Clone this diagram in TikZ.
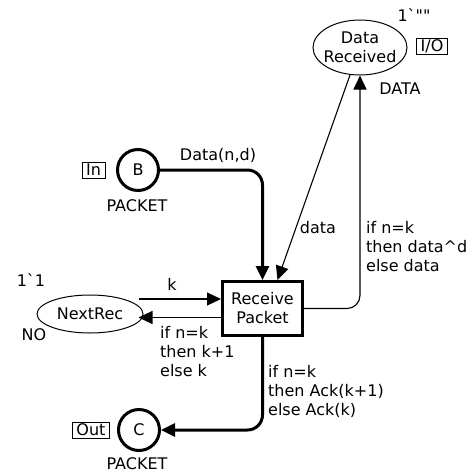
\documentclass[tikz,border=0pt]{standalone}
\usepackage{fontspec}
\setmainfont{DejaVu Sans}
\newfontfamily\rawfont{DejaVu Sans}
\usetikzlibrary{arrows.meta,shapes.geometric,calc}
\begin{document}
\begin{tikzpicture}[x=1pt,y=-1pt,
  font=\fontsize{16}{19}\selectfont,
  every node/.style={inner sep=0pt},
  placeell/.style={draw, ellipse, line width=1pt, inner sep=0pt},
  placecirc/.style={draw, circle, line width=3pt, minimum size=41pt},
  trans/.style={draw, rectangle, line width=3pt, minimum width=80pt, minimum height=54pt, align=center},
  thinarc/.style={line width=1.1pt, -{Triangle[length=14pt,width=13pt]}, rounded corners=13pt},
  thickarc/.style={line width=3pt, -{Triangle[length=14pt,width=13pt]}, rounded corners=15pt},
  tag/.style={draw, line width=0.8pt, inner xsep=4pt, inner ysep=1.5pt, text height=12pt, text depth=1pt},
  lbl/.style={align=left, anchor=west}
]
\useasboundingbox (0,0) rectangle (473,475);

% places
\node[placeell, minimum width=94pt, minimum height=55pt] (DR) at (360,47.5) {};
\node[align=center] (DRtext) at (DR) {Data\\Received};
\node[placeell, minimum width=106pt, minimum height=38pt] (NR) at (90,314) {};
\node (NRtext) at (NR) {NextRec};
\node[placecirc] (B) at (138,170) {B};
\node[placecirc] (C) at (139,430) {C};

% transition
\node[trans] (T) at (262.5,308.5) {Receive\\Packet};

% place inscriptions
\node (DRinit) at (414,15) {\rawfont 1`""};
\node[tag] (io) at (432,46) {I/O};
\node (DRtype) at (400,89) {DATA};
\node[tag] (in) at (93.5,170) {In};
\node (Btype) at (137,206) {PACKET};
\node[tag] (out) at (91,430) {Out};
\node (Ctype) at (137,464) {PACKET};
\node (NRinit) at (31,280) {\rawfont 1`1};
\node (NRtype) at (34,335) {NO};

% arcs
\draw[thickarc] (B.east) -| (T.north);
\draw[thinarc] (DR.250) -- ([xshift=15pt]T.north);
\draw[thinarc] (T.east) -| (DR.south);
\coordinate (kin) at ([yshift=9.5pt]T.west);
\coordinate (kback) at ([yshift=-9pt]T.west);
\path ([xshift=-5pt]NR.east) coordinate (nre);
\draw[thinarc] (nre |- kin) -- (kin);
\draw[thinarc] (kback) -- (nre |- kback);
\draw[thickarc] (T.south) |- (C.east);

% arc inscriptions
\node (lBT) at (218,155) {Data(n,d)};
\node (lDRT) at (318,228) {data};
\node[lbl] (lTDR) at (366,247) {if n=k\\then data\textasciicircum d\\else data};
\node (lk) at (172,284) {k};
\node[lbl] (lTNR) at (160,352) {if n=k\\then k+1\\else k};
\node[lbl] (lTC) at (268,391) {if n=k\\then Ack(k+1)\\else Ack(k)};
\end{tikzpicture}
\end{document}
